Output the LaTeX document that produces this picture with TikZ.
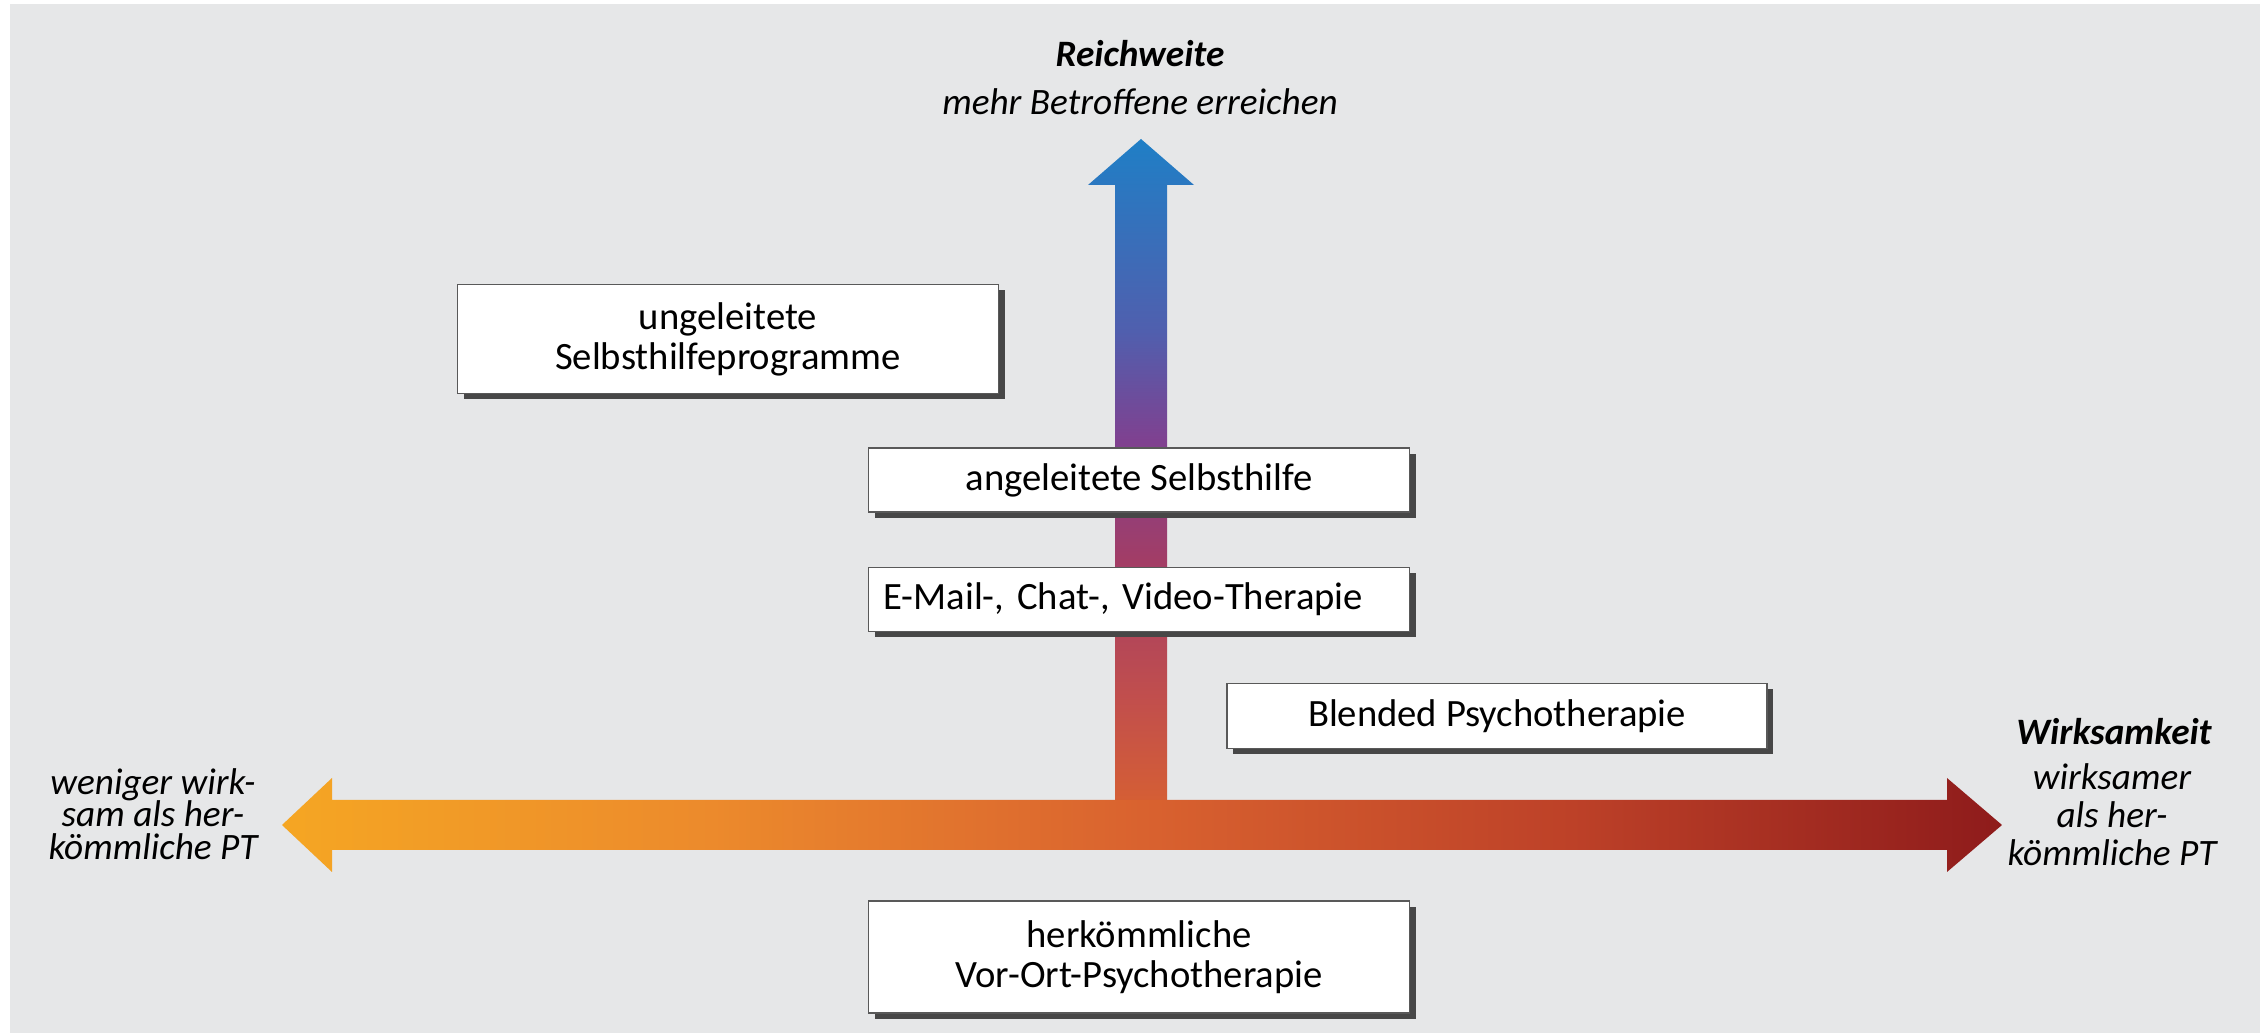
\documentclass[tikz,border=0pt]{standalone}
\usepackage{fontspec}
\setmainfont{Carlito}
\usepackage{tikz}
\usetikzlibrary{positioning, shadows}
\frenchspacing
\definecolor{bgcol}{HTML}{E6E7E8}
\definecolor{effA}{HTML}{F5A623}
\definecolor{effB}{HTML}{EC8A2C}
\definecolor{effC}{HTML}{D9622F}
\definecolor{effD}{HTML}{BD4128}
\definecolor{effE}{HTML}{8E1B1B}
\definecolor{reA}{HTML}{D9622F}
\definecolor{reB}{HTML}{C24F4C}
\definecolor{reC}{HTML}{A23D66}
\definecolor{reD}{HTML}{7F4190}
\definecolor{reE}{HTML}{505FAE}
\definecolor{reF}{HTML}{1F7FC6}
\pgfdeclarehorizontalshading{effshade}{100bp}{color(0bp)=(effA); color(25bp)=(effA);
  color(37.5bp)=(effB); color(50bp)=(effC); color(62.5bp)=(effD); color(75bp)=(effE); color(100bp)=(effE)}
\pgfdeclareverticalshading{reachshade}{100bp}{color(0bp)=(reA); color(25bp)=(reA);
  color(34bp)=(reB); color(44.3bp)=(reC); color(53bp)=(reD); color(61bp)=(reE); color(75bp)=(reF); color(100bp)=(reF)}
\newcommand\bxfont{\fontsize{11}{11.4}\selectfont}
\newcommand\lblfont{\fontsize{10.6}{9.3}\selectfont}
\tikzset{
  box/.style ={rectangle, draw=black!65, line width=0.4pt, fill=white,
               drop shadow={shadow xshift=0.6mm, shadow yshift=-0.6mm,
                            fill=black!72, opacity=1},
               minimum width=54.1mm, align=center, font=\bxfont, inner sep=0pt},
  lbl/.style ={font=\lblfont\itshape, align=center, inner sep=0pt},
  ttl/.style ={font=\lblfont\bfseries\itshape, anchor=base, inner sep=0pt}
}

\begin{document}
\begin{tikzpicture}[x=0.1mm, y=-0.1mm]
\useasboundingbox (0,0) rectangle (2260,1033);
\fill[white] (0,0) rectangle (2260,1033);
\fill[bgcol] (10,4) rectangle (2260,1033);
% axes
\coordinate (orig) at (1141,825);
\coordinate (up)   at (1141,139);
\coordinate (lft)  at (282,825);
\coordinate (rgt)  at (2002,825);
\shade[shading=reachshade] (up) -- ++(53,46) -- ++(-27,0) -- ++(0,640) -- ++(-52,0)
  -- ++(0,-640) -- ++(-27,0) -- cycle;
\shade[shading=effshade] (lft) -- ++(50,-47) -- ++(0,22) -- ++(1615,0) -- ++(0,-22)
  -- (rgt) -- ++(-55,47) -- ++(0,-22) -- ++(-1615,0) -- ++(0,22) -- cycle;
% axis labels
\node[ttl] (reach) at (1140,67) {Reichweite};
\node[lbl, anchor=base] (reachsub) at (1140,115) {mehr Betroffene erreichen};
\node[ttl] (eff) at (2114,744) {Wirksamkeit};
\node[lbl, font=\fontsize{10.6}{10.8}\selectfont\itshape] (effsub) at (2112,815)
  {wirksamer\\als her-\\kömmliche PT};
\node[lbl] (less) at (153,814) {weniger wirk-\\sam als her-\\kömmliche PT};
% forms of therapy
\node[box, minimum height=10.9mm] (ungel) at (728,339) {ungeleitete\\Selbsthilfeprogramme};
\node[box, minimum height=6.4mm] (angel) at (1139,480) {angeleitete Selbsthilfe};
\node[box, minimum height=6.4mm, below=5.4mm of angel, text width=51.1mm, inner xsep=1.5mm,
      align=left] (email) {E-Mail-, Chat-, Video-Therapie};
\node[box, minimum height=6.5mm, minimum width=54mm] (blend) at (1497,716) {Blended Psychotherapie};
\node[box, minimum height=11.2mm] (herk) at (1139,957) {herkömmliche\\Vor-Ort-Psychotherapie};
\end{tikzpicture}
\end{document}
